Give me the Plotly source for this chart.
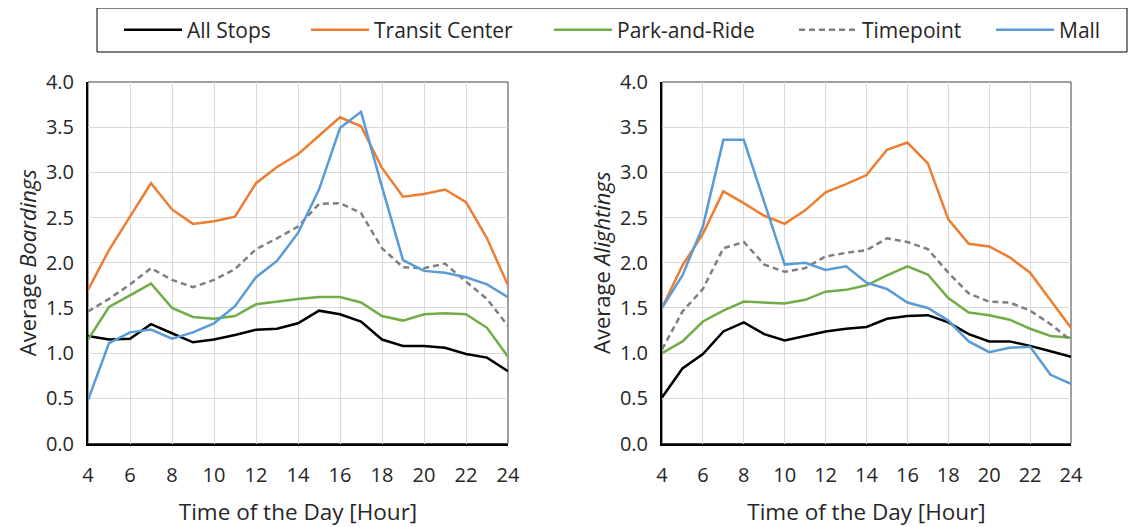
import plotly.graph_objects as go

hours = list(range(4, 25))

series_names = ["All Stops", "Transit Center", "Park-and-Ride", "Timepoint", "Mall"]

board_all = [1.19, 1.15, 1.16, 1.32, 1.22, 1.12, 1.15, 1.20, 1.26, 1.27, 1.33, 1.47, 1.43, 1.35, 1.15, 1.08, 1.08, 1.06, 0.99, 0.95, 0.80]
board_tc = [1.70, 2.14, 2.51, 2.88, 2.59, 2.43, 2.46, 2.51, 2.88, 3.06, 3.20, 3.41, 3.61, 3.51, 3.05, 2.73, 2.76, 2.81, 2.67, 2.27, 1.75]
board_pr = [1.15, 1.51, 1.64, 1.77, 1.50, 1.40, 1.38, 1.41, 1.54, 1.57, 1.60, 1.62, 1.62, 1.56, 1.41, 1.36, 1.43, 1.44, 1.43, 1.28, 0.96]
board_tp = [1.46, 1.60, 1.76, 1.94, 1.81, 1.73, 1.81, 1.93, 2.15, 2.27, 2.40, 2.65, 2.66, 2.55, 2.16, 1.95, 1.94, 1.99, 1.79, 1.60, 1.30]
board_mall = [0.48, 1.11, 1.23, 1.26, 1.16, 1.23, 1.33, 1.52, 1.84, 2.02, 2.33, 2.81, 3.49, 3.67, 2.84, 2.03, 1.91, 1.89, 1.84, 1.76, 1.62]

alight_all = [0.51, 0.83, 0.99, 1.24, 1.34, 1.21, 1.14, 1.19, 1.24, 1.27, 1.29, 1.38, 1.41, 1.42, 1.34, 1.21, 1.13, 1.13, 1.08, 1.02, 0.96]
alight_tc = [1.50, 1.97, 2.32, 2.79, 2.66, 2.52, 2.43, 2.58, 2.78, 2.87, 2.97, 3.25, 3.33, 3.10, 2.48, 2.21, 2.18, 2.06, 1.89, 1.58, 1.28]
alight_pr = [1.00, 1.13, 1.35, 1.47, 1.57, 1.56, 1.55, 1.59, 1.68, 1.70, 1.75, 1.86, 1.96, 1.87, 1.61, 1.45, 1.42, 1.37, 1.27, 1.19, 1.17]
alight_tp = [1.04, 1.46, 1.71, 2.16, 2.23, 1.98, 1.90, 1.94, 2.07, 2.11, 2.14, 2.27, 2.23, 2.15, 1.89, 1.66, 1.57, 1.56, 1.47, 1.32, 1.14]
alight_mall = [1.50, 1.86, 2.40, 3.36, 3.36, 2.67, 1.98, 2.00, 1.92, 1.96, 1.78, 1.71, 1.56, 1.50, 1.36, 1.13, 1.01, 1.06, 1.07, 0.76, 0.66]

colors = ["#000000", "#ED7D31", "#70AD47", "#7F7F7F", "#5B9BD5"]
dashes = ["solid", "solid", "solid", "6px,4px", "solid"]

board = [board_all, board_tc, board_pr, board_tp, board_mall]
alight = [alight_all, alight_tc, alight_pr, alight_tp, alight_mall]

FONT = "Open Sans"
TXT = "#262626"

# page body has an 8px margin; figure sized to fit the window
W, H = 1136, 519
OFF = 8


def fx(px):
    return (px - OFF) / W


def fy(py):
    return 1 - (py - OFF) / H


legend_ids = ["legend", "legend2", "legend3", "legend4", "legend5"]
legend_left = [125, 312, 555, 800, 997]  # where each legend entry starts (px)

fig = go.Figure()
for i, name in enumerate(series_names):
    fig.add_trace(go.Scatter(x=hours, y=board[i], mode="lines", name=name,
                             line=dict(color=colors[i], width=2.5, dash=dashes[i]),
                             xaxis="x", yaxis="y", showlegend=True, legend=legend_ids[i]))
for i, name in enumerate(series_names):
    fig.add_trace(go.Scatter(x=hours, y=alight[i], mode="lines", name=name,
                             line=dict(color=colors[i], width=2.5, dash=dashes[i]),
                             xaxis="x2", yaxis="y2", showlegend=False))

xdom1 = [fx(88), fx(508)]
xdom2 = [fx(662), fx(1071)]
ydom = [fy(443.5), fy(82)]

axis_common = dict(showgrid=True, gridcolor="#D9D9D9", gridwidth=1,
                   showline=True, linecolor="black", linewidth=2,
                   ticks="", zeroline=False,
                   tickfont=dict(family=FONT, size=20, color=TXT))

xt = dict(text="Time of the Day [Hour]", font=dict(family=FONT, size=22.5, color=TXT), standoff=18)

legends = {}
for i, lid in enumerate(legend_ids):
    legends[lid] = dict(orientation="h", x=fx(legend_left[i] - 6), xanchor="left",
                        y=fy(30), yanchor="middle", borderwidth=0,
                        bgcolor="rgba(0,0,0,0)",
                        font=dict(family=FONT, size=21, color=TXT),
                        itemwidth=58)

fig.update_layout(
    width=W, height=H,
    margin=dict(l=0, r=0, t=0, b=0, autoexpand=False),
    paper_bgcolor="white", plot_bgcolor="white",
    font=dict(family=FONT, color=TXT),
    xaxis=dict(domain=xdom1, anchor="y", range=[4, 24], dtick=2, tick0=4,
               ticklabelstandoff=12, title=xt, **axis_common),
    yaxis=dict(domain=ydom, anchor="x", range=[0, 4], dtick=0.5, tickformat=".1f",
               ticklabelstandoff=8,
               title=dict(text="Average <i>Boardings</i>", font=dict(family=FONT, size=22, color=TXT), standoff=3),
               **axis_common),
    xaxis2=dict(domain=xdom2, anchor="y2", range=[4, 24], dtick=2, tick0=4,
                ticklabelstandoff=12, title=xt, **axis_common),
    yaxis2=dict(domain=ydom, anchor="x2", range=[0, 4], dtick=0.5, tickformat=".1f",
                ticklabelstandoff=8,
                title=dict(text="Average <i>Alightings</i>", font=dict(family=FONT, size=22, color=TXT), standoff=3),
                **axis_common),
    shapes=[
        dict(type="rect", xref="paper", yref="paper", x0=xdom1[0], x1=xdom1[1], y0=ydom[0], y1=ydom[1],
             line=dict(color="#404040", width=1), layer="below"),
        dict(type="rect", xref="paper", yref="paper", x0=xdom2[0], x1=xdom2[1], y0=ydom[0], y1=ydom[1],
             line=dict(color="#404040", width=1), layer="below"),
        # legend frame
        dict(type="rect", xref="paper", yref="paper", x0=fx(97), x1=fx(1127), y0=fy(52), y1=fy(8),
             line=dict(color="black", width=1), fillcolor="white", layer="below"),
    ],
    **legends,
)

fig.write_html("out.html")
